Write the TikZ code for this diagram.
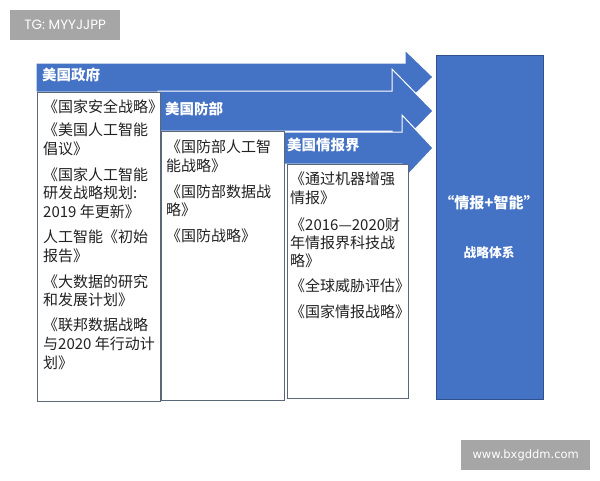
\documentclass[tikz,border=0pt]{standalone}
\usepackage{fontspec}
\newfontfamily\cjk{Noto Sans CJK SC}
\newfontfamily\wmA{Poppins}
\newfontfamily\wmB{DejaVu Sans}
\definecolor{ablue}{HTML}{4472C4}
\definecolor{dblue}{HTML}{2F528F}
\definecolor{boxline}{HTML}{5A6878}
\definecolor{wmgray}{HTML}{A6A6A6}
\definecolor{itemtext}{HTML}{222222}
\begin{document}
\begin{tikzpicture}[x=1pt,y=-1pt,
  arrowshape/.style={fill=ablue,draw=white,line width=1pt},
  listbox/.style={draw=boxline,fill=white,line width=1pt},
  headtext/.style={anchor=base west,inner sep=0pt,text=white,font=\cjk\bfseries\fontsize{14.5}{14.5}\selectfont},
  itemtext/.style={anchor=base west,inner sep=0pt,text=itemtext,font=\cjk\fontsize{15}{15}\selectfont},
  goaltext/.style={anchor=center,inner sep=0pt,text=white,font=\cjk\bfseries},
  wmark/.style={fill=wmgray,text=white,inner sep=0pt,anchor=north west}]
\useasboundingbox (0,0) rectangle (600,480);
\fill[white] (0,0) rectangle (600,480);
% arrows
\draw[arrowshape] (36,63) -- (405,63) -- (405,50) -- (433,77) -- (405,104) -- (405,92) -- (36,92) -- cycle;
\draw[arrowshape] (158,91) -- (392,91) -- (392,69) -- (433,111) -- (392,153) -- (392,131) -- (158,131) -- cycle;
\draw[arrowshape] (283,132) -- (402,132) -- (402,115) -- (433,148) -- (402,181) -- (402,164) -- (283,164) -- cycle;
\node[headtext] (h1) at (42,80) {美国政府};
\node[headtext] (h2) at (165,114) {美国防部};
\node[headtext] (h3) at (287,150) {美国情报界};
% list boxes
\draw[listbox] (37,92) rectangle (160,401);
\draw[listbox] (161.5,131) rectangle (284,400);
\draw[listbox] (287,164) rectangle (408,398);
\foreach \yy/\tt [count=\i] in {112/{《国家安全战略》},135/{《美国人工智能},154/{倡议》},180/{《国家人工智能},198/{研发战略规划:},217/{2019 年更新》},242/{人工智能《初始},261/{报告》},287/{《大数据的研究},305/{和发展计划》},330/{《联邦数据战略},349/{与2020 年行动计},368/{划》}}
  \node[itemtext] (a\i) at (43,\yy) {\tt};
\foreach \yy/\tt [count=\i] in {152/{《国防部人工智},171/{能战略》},197/{《国防部数据战},215/{略》},241/{《国防战略》}}
  \node[itemtext] (b\i) at (166,\yy) {\tt};
\foreach \yy/\tt [count=\i] in {184/{《通过机器增强},203/{情报》},230/{《2016—2020财},248/{年情报界科技战},266/{略》},291/{《全球威胁评估》},317/{《国家情报战略》}}
  \node[itemtext] (c\i) at (290,\yy) {\tt};
% goal box
\draw[fill=ablue,draw=dblue,line width=0.8pt] (436,55) rectangle (543,399);
\node[goaltext,font=\cjk\bfseries\fontsize{15}{15}\selectfont] (g1) at (489,203) {“情报+智能”};
\node[goaltext,font=\cjk\bfseries\fontsize{12.75}{12.75}\selectfont] (g2) at (489,253) {战略体系};
% watermarks
\node[wmark,minimum width=110pt,minimum height=30pt,font=\wmA\fontsize{13.5}{13.5}\selectfont] (w1) at (10,10) {TG: MYYJJPP};
\node[wmark,minimum width=129pt,minimum height=30pt,font=\wmB\fontsize{11.5}{11.5}\selectfont] (w2) at (461,440) {www.bxgddm.com};
\end{tikzpicture}
\end{document}
